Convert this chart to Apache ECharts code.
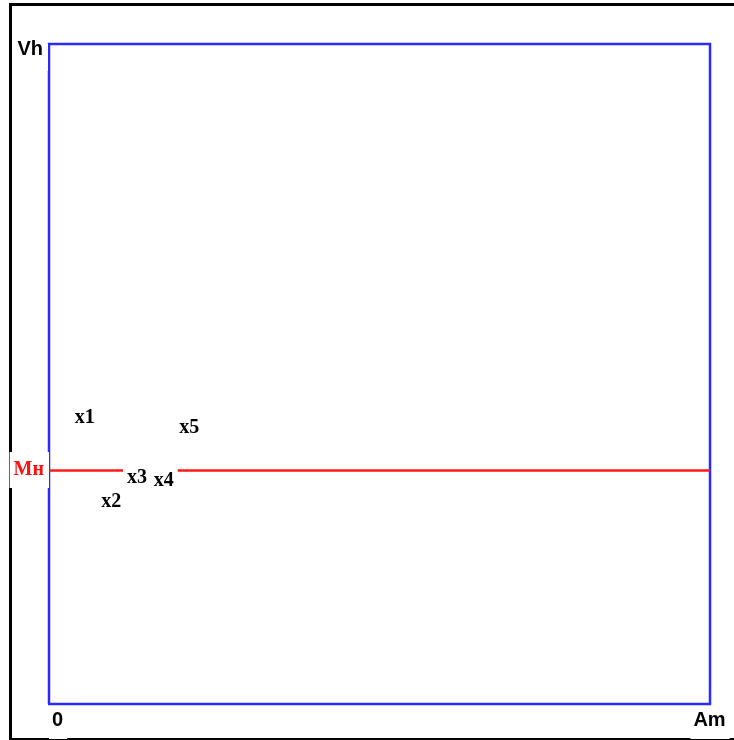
<!DOCTYPE html>
<html>
<head>
<meta charset="utf-8">
<script src="https://cdn.jsdelivr.net/npm/echarts@6/dist/echarts.min.js"></script>
<style>
html,body{margin:0;padding:0;background:#fff;}
#chart{width:734px;height:740px;}
</style>
</head>
<body>
<div id="chart"></div>
<script>
// Data
var pointNames = ['x1', 'x2', 'x3', 'x4', 'x5'];
var pointX = [5.40, 9.41, 13.31, 17.35, 21.23];
var pointY = [43.41, 30.67, 34.30, 33.85, 41.82];
var thresholdValue = 35.45;
var thresholdLabel = 'Mн';
var xTickLabels = ['0', 'Am'];
var yTickLabels = ['', 'Vh'];
var axisMin = 0;
var axisMax = 100;

var chart = echarts.init(document.getElementById('chart'), null, {renderer: 'canvas'});

var scatterData = pointNames.map(function (n, i) {
  return {name: n, value: [pointX[i], pointY[i]]};
});

var sansBold = {fontFamily: 'Liberation Sans, Arial, sans-serif', fontWeight: 'bold', fontSize: 20, color: '#000'};

var option = {
  animation: false,
  backgroundColor: '#fff',
  graphic: [{
    type: 'rect',
    z: -10,
    silent: true,
    shape: {x: 10.5, y: 4.5, width: 760, height: 735},
    style: {fill: 'none', stroke: '#000', lineWidth: 3}
  }],
  grid: {
    left: 49, right: 24, top: 44, bottom: 36,
    show: true,
    borderColor: '#2a2aff',
    borderWidth: 2.5,
    backgroundColor: 'transparent'
  },
  xAxis: {
    type: 'value',
    min: axisMin, max: axisMax, interval: axisMax - axisMin,
    axisLine: {show: false}, axisTick: {show: false}, splitLine: {show: false},
    axisLabel: Object.assign({
      margin: 2,
      backgroundColor: '#fff',
      padding: [4, 4, 9, 3],
      alignMinLabel: 'left',
      formatter: function (v) { return v === axisMin ? xTickLabels[0] : (v === axisMax ? xTickLabels[1] : ''); }
    }, sansBold)
  },
  yAxis: {
    type: 'value',
    min: axisMin, max: axisMax, interval: axisMax - axisMin,
    axisLine: {show: false}, axisTick: {show: false}, splitLine: {show: false},
    axisLabel: Object.assign({
      margin: 1,
      backgroundColor: '#fff',
      verticalAlign: 'top',
      lineHeight: 11,
      padding: [0, 5, 16, 5],
      formatter: function (v) { return v === axisMin ? yTickLabels[0] : (v === axisMax ? yTickLabels[1] : ''); }
    }, sansBold)
  },
  series: [{
    type: 'line',
    data: [],
    z: 2,
    markLine: {
      silent: true,
      symbol: 'none',
      animation: false,
      lineStyle: {color: '#ff1a1a', width: 2.5, type: 'solid'},
      label: {
        position: 'start',
        distance: 0,
        formatter: thresholdLabel,
        color: '#ff1010',
        fontFamily: 'Liberation Serif, Times New Roman, serif',
        fontWeight: 'bold',
        fontSize: 20,
        backgroundColor: '#fff',
        padding: [4, 5, 12, 4]
      },
      emphasis: {disabled: true},
      data: [{yAxis: thresholdValue}]
    }
  }, {
    type: 'scatter',
    z: 5,
    symbolSize: 1,
    itemStyle: {color: 'rgba(0,0,0,0)', opacity: 1},
    silent: true,
    label: {
      show: true,
      position: 'inside',
      formatter: '{b}',
      color: '#000',
      opacity: 1,
      fontFamily: 'Liberation Serif, Times New Roman, serif',
      fontWeight: 'bold',
      fontSize: 20,
      backgroundColor: '#fff',
      padding: [4, 4, 0, 4]
    },
    data: scatterData
  }]
};
chart.setOption(option);
</script>
</body>
</html>
